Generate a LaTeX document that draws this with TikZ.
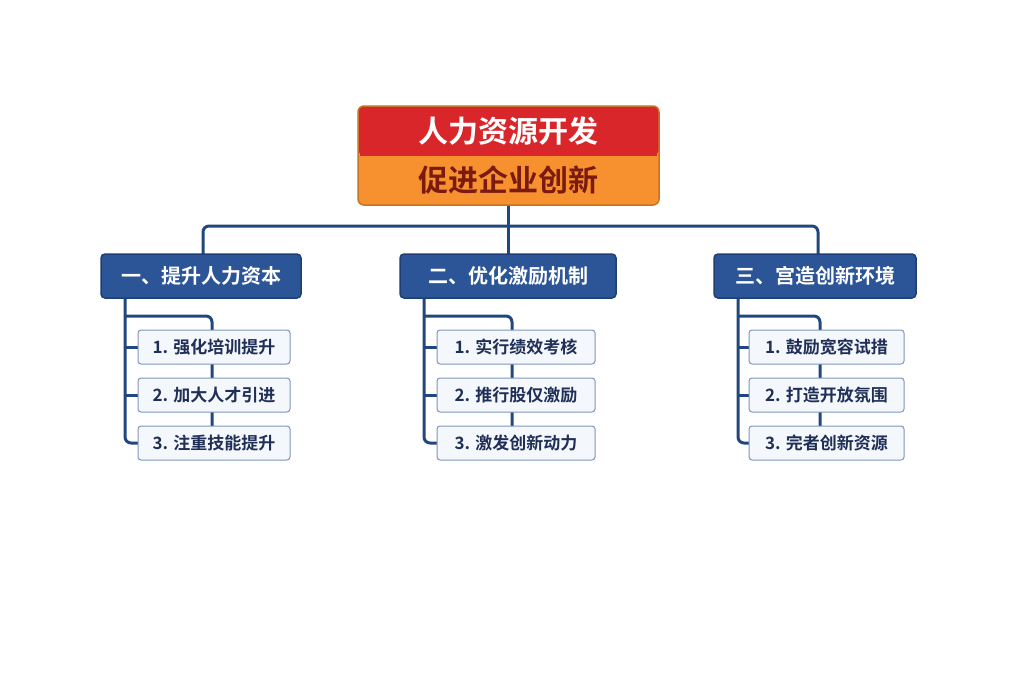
\documentclass[tikz,border=0pt]{standalone}
\usepackage{fontspec}
\newfontfamily\cjk{Noto Sans CJK SC Bold}
\begin{document}
\begin{tikzpicture}[x=1pt,y=-1pt,
 line/.style={draw=lineblue,line width=3pt,rounded corners=6pt},
 head/.style={draw=headborder,line width=1.5pt,fill=headblue,rounded corners=4pt,text=white,font=\cjk\fontsize{20}{20}\selectfont,minimum width=200pt,minimum height=44pt,inner sep=0pt},
 kid/.style={draw=kidborder,line width=1pt,fill=kidfill,rounded corners=3pt,text=kidtext,font=\cjk\fontsize{17}{17}\selectfont,minimum width=152pt,minimum height=34pt,inner sep=0pt}]
\definecolor{lineblue}{HTML}{22477E}
\definecolor{headblue}{HTML}{2C5598}
\definecolor{headborder}{HTML}{1D3F75}
\definecolor{kidborder}{HTML}{7E97B8}
\definecolor{kidfill}{HTML}{F4F7FB}
\definecolor{kidtext}{HTML}{1F2F55}
\definecolor{rootred}{HTML}{D9262A}
\definecolor{rootorange}{HTML}{F7902E}
\definecolor{roottext}{HTML}{7A1A10}
\useasboundingbox (0,0) rectangle (1024,683);
% connectors
\coordinate (bl) at (203,226); \coordinate (br) at (818,226);
\draw[line] (203,254) -- (bl) -- (br) -- (818,254);
\draw[line] (508,205) -- (508,254);
\foreach \sx/\cx/\n in {125/212/a,424/512/b,738/820/c}{
 \draw[line] (\sx,298) -- (\sx,443) -- (\sx+14,443);
 \draw[line] (\sx,347) -- (\sx+14,347);
 \draw[line] (\sx,395) -- (\sx+14,395);
 \draw[line] (\sx,316) -- (\cx,316) -- (\cx,430);
}
% root
\node[draw=none,minimum width=300pt,minimum height=99pt] (root) at (508.5,155.5) {};
\fill[rootorange,rounded corners=6pt] (358,106) rectangle (659,205);
\fill[rootred,rounded corners=6pt] (358,106) -- (659,106) -- (659,155) -- (358,155) -- cycle;
\fill[rootred] (360,150) rectangle (657,156);
\draw[rootorange!80!black,line width=1.5pt,rounded corners=6pt] (358,106) rectangle (659,205);
\node[text=white,font=\cjk\fontsize{30}{30}\selectfont] (t1) at (508.5,131) {人力资源开发};
\node[text=roottext,font=\cjk\fontsize{30}{30}\selectfont] (t2) at (508.5,180) {促进企业创新};
% heads
\node[head] (h1) at (201,276) {一、提升人力资本};
\node[head,minimum width=216pt] (h2) at (508,276) {二、优化激励机制};
\node[head,minimum width=202pt] (h3) at (815,276) {三、宫造创新环境};
% kids
\node[kid] (a1) at (214,347) {1. 强化培训提升};
\node[kid] (a2) at (214,395) {2. 加大人才引进};
\node[kid] (a3) at (214,443) {3. 注重技能提升};
\node[kid,minimum width=158pt] (b1) at (516,347) {1. 实行绩效考核};
\node[kid,minimum width=158pt] (b2) at (516,395) {2. 推行股仅激励};
\node[kid,minimum width=158pt] (b3) at (516,443) {3. 激发创新动力};
\node[kid,minimum width=155pt] (c1) at (826.5,347) {1. 鼓励宽容试措};
\node[kid,minimum width=155pt] (c2) at (826.5,395) {2. 打造开放氛围};
\node[kid,minimum width=155pt] (c3) at (826.5,443) {3. 完者创新资源};
\end{tikzpicture}
\end{document}
